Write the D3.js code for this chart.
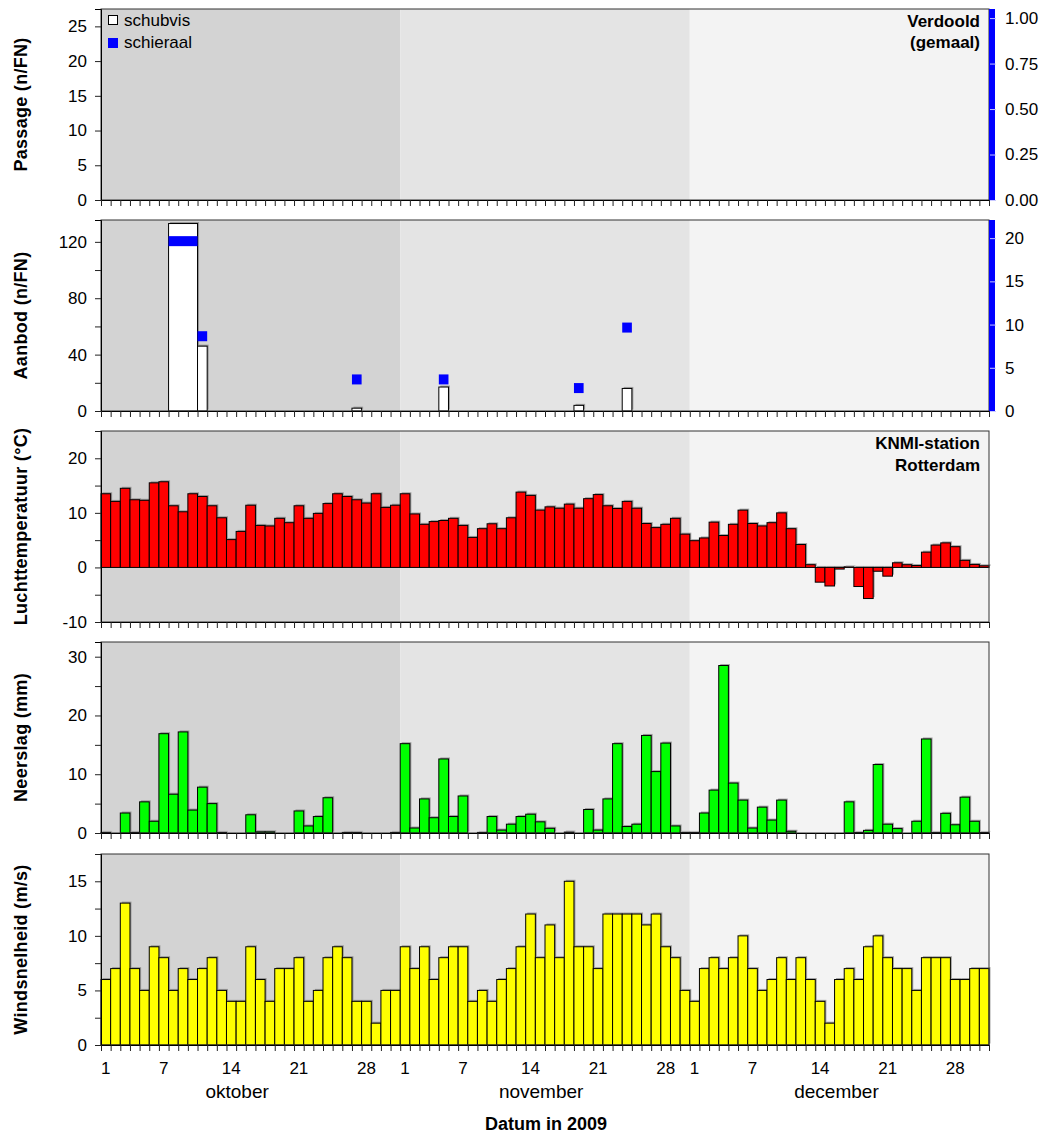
<!DOCTYPE html>
<html>
<head>
<meta charset="utf-8">
<script src="https://cdn.jsdelivr.net/npm/d3@7"></script>
<style>
  body { margin: 0; background: #fff; }
  text { font-family: "Liberation Sans", Arial, sans-serif; }
</style>
</head>
<body>
<svg id="chart" width="1051" height="1140"></svg>
<script>
// ---- calendar (1 Oct - 31 Dec 2009, day index 0..91) ----
const months = ["oktober", "november", "december"];
const monthStart = [0, 31, 61];
const monthLength = [31, 30, 31];
const monthLabelDay = [14.1, 45.6, 76.2];
const dayTickLabels = [1, 7, 14, 21, 28];
const monthBandColors = ["#d3d3d3", "#e4e4e4", "#f3f3f3"];

// ---- fyke-net catch per sampling period (day index start/end) ----
const aanbodStart = [7, 10, 26, 35, 49, 54];
const aanbodEnd = [10, 11, 27, 36, 50, 55];
const schubvisAanbod = [133, 46, 2, 17, 4, 16];
const schieraalAanbod = [20, 9, 4, 4, 3, 10];

// ---- KNMI Rotterdam daily weather ----
const temperature = [
  13.5, 12.1, 14.5, 12.4, 12.3, 15.5, 15.7, 11.3, 10.2, 13.5, 13.0, 11.3, 9.1, 5.1, 6.6, 11.4,
  7.7, 7.6, 9.0, 8.2, 11.3, 9.0, 9.9, 11.7, 13.5, 13.0, 12.4, 11.8, 13.5, 11.0, 11.4,
  13.5, 9.8, 7.9, 8.4, 8.6, 9.0, 7.7, 5.5, 7.1, 8.0, 7.1, 9.1, 13.8, 13.2, 10.5,
  11.1, 10.85, 11.6, 10.85, 12.6, 13.35, 11.3, 10.8, 12.1, 10.85, 8.05, 7.3, 7.9, 9.0, 6.1,
  4.9, 5.4, 8.3, 5.85, 7.9, 10.5, 8.05, 7.6, 8.2, 10.0, 7.1, 4.2, 0.5, -2.7, -3.4, -0.3,
  0.1, -3.5, -5.7, -0.7, -1.6, 0.85, 0.5, 0.35, 2.8, 4.1, 4.5, 3.8, 1.3, 0.55, 0.3
];
const precipitation = [
  0.1, 0, 3.4, 0.1, 5.3, 2.0, 16.9, 6.6, 17.2, 3.9, 7.8, 5.0, 0.1, 0, 0, 3.1,
  0.2, 0.2, 0, 0, 3.75, 1.2, 2.8, 6.0, 0, 0.1, 0.1, 0, 0, 0, 0.1,
  15.2, 0.85, 5.8, 2.6, 12.6, 2.8, 6.3, 0, 0.1, 2.8, 0.5, 1.5, 2.8, 3.2, 1.9,
  0.8, 0, 0.15, 0, 4.0, 0.5, 5.8, 15.2, 1.1, 1.5, 16.6, 10.45, 15.3, 1.2, 0.1,
  0.1, 3.4, 7.3, 28.5, 8.5, 5.6, 0.85, 4.4, 2.2, 5.6, 0.3, 0, 0, 0, 0, 0,
  5.3, 0.1, 0.45, 11.65, 1.5, 0.75, 0, 2.0, 16.0, 0.1, 3.35, 1.4, 6.1, 2.0, 0.1
];
const windSpeed = [
  6, 7, 13, 7, 5, 9, 8, 5, 7, 6, 7, 8, 5, 4, 4, 9, 6, 4, 7, 7, 8, 4, 5, 8, 9, 8, 4, 4, 2, 5, 5,
  9, 7, 9, 6, 8, 9, 9, 4, 5, 4, 6, 7, 9, 12, 8, 11, 8, 15, 9, 9, 7, 12, 12, 12, 12, 11, 12, 9, 8, 5,
  4, 7, 8, 7, 8, 10, 7, 5, 6, 8, 6, 8, 6, 4, 2, 6, 7, 6, 9, 10, 8, 7, 7, 5, 8, 8, 8, 6, 6, 7, 7
];

const nDays = 92;
const svg = d3.select("#chart");
const x = d3.scaleLinear().domain([0, nDays]).range([101, 989]);

const panelTop = [9, 220, 431, 642, 854];
const panelH = 191;

function panelFrame(idx) {
  const top = panelTop[idx];
  const g = svg.append("g");
  // month background bands
  g.selectAll("rect.band").data(months).join("rect")
    .attr("x", (d, i) => x(monthStart[i]))
    .attr("width", (d, i) => x(monthStart[i] + monthLength[i]) - x(monthStart[i]))
    .attr("y", top).attr("height", panelH)
    .attr("fill", (d, i) => monthBandColors[i]);
  return g;
}

function finishPanel(g, idx, y, tickVals, labelVals, title, fmt) {
  const top = panelTop[idx];
  // frame
  g.append("rect").attr("x", x(0)).attr("y", top)
    .attr("width", x(nDays) - x(0)).attr("height", panelH)
    .attr("fill", "none").attr("stroke", "#333").attr("stroke-width", 1);
  // left axis
  const ax = g.append("g").attr("transform", `translate(${x(0)},0)`)
    .call(d3.axisLeft(y).tickValues(tickVals).tickSize(6).tickPadding(8)
      .tickFormat(d => labelVals.includes(d) ? (fmt ? fmt(d) : String(d)) : ""));
  ax.selectAll("text").attr("font-size", 17).attr("fill", "#000")
    .attr("font-family", '"Liberation Sans", Arial, sans-serif');
  ax.selectAll("line").attr("stroke", "#222");
  ax.select(".domain").attr("stroke", "#000");
  // day ticks along the bottom
  const bx = g.append("g").attr("transform", `translate(0,${top + panelH})`)
    .call(d3.axisBottom(x).tickValues(d3.range(nDays + 1)).tickSize(6).tickFormat(""));
  bx.selectAll("line").attr("stroke", "#222");
  bx.select(".domain").attr("stroke", "#000");
  // axis title
  g.append("text")
    .attr("transform", `translate(27,${top + panelH / 2}) rotate(-90)`)
    .attr("text-anchor", "middle").attr("font-size", 18).attr("font-weight", "bold")
    .attr("letter-spacing", 0.3)
    .text(title);
}

function drawBars(g, values, y, color) {
  const data = values.map((v, i) => ({ i, v })).filter(d => d.v !== 0);
  const rectAttrs = sel => sel
    .attr("x", d => x(d.i))
    .attr("width", d => x(d.i + 1) - x(d.i))
    .attr("y", d => Math.min(y(d.v), y(0)))
    .attr("height", d => Math.abs(y(d.v) - y(0)));
  g.append("g").attr("transform", "translate(1.5,-1.5)")
    .selectAll("rect").data(data).join("rect").call(rectAttrs)
    .attr("fill", "#707070").attr("opacity", 0.6);
  g.append("g").selectAll("rect").data(data).join("rect").call(rectAttrs)
    .attr("fill", color).attr("stroke", "#000").attr("stroke-width", 1);
}

function blueRightAxis(g, idx, yR, ticks, fmt) {
  const top = panelTop[idx];
  g.append("rect").attr("x", x(nDays)).attr("y", top)
    .attr("width", 6).attr("height", panelH).attr("fill", "#0000ff");
  const ax = g.append("g").attr("transform", `translate(${x(nDays) + 1},0)`)
    .call(d3.axisRight(yR).tickValues(ticks).tickSize(6).tickPadding(9).tickFormat(fmt));
  ax.select(".domain").remove();
  ax.selectAll("line").attr("stroke", "#c8c8ff");
  ax.selectAll("text").attr("font-size", 17).attr("fill", "#000")
    .attr("font-family", '"Liberation Sans", Arial, sans-serif');
}

// ---- panel 1: passage (empty) ----
{
  const idx = 0, top = panelTop[idx];
  const g = panelFrame(idx);
  const y = d3.scaleLinear().domain([0, 27.5]).range([top + panelH, top]);
  const yR = d3.scaleLinear().domain([0, 1.05]).range([top + panelH, top]);
  finishPanel(g, idx, y, [0, 5, 10, 15, 20, 25], [0, 5, 10, 15, 20, 25], "Passage (n/FN)");
  blueRightAxis(g, idx, yR, [0, 0.25, 0.5, 0.75, 1], d3.format(".2f"));
  // legend
  const lg = g.append("g");
  lg.append("rect").attr("x", 108.5).attr("y", 15.5).attr("width", 9).attr("height", 9)
    .attr("fill", "#fff").attr("stroke", "#000");
  lg.append("text").attr("x", 124).attr("y", 26).attr("font-size", 17).text("schubvis");
  lg.append("rect").attr("x", 108).attr("y", 38).attr("width", 10).attr("height", 10)
    .attr("fill", "#0000ff");
  lg.append("text").attr("x", 124).attr("y", 48).attr("font-size", 17).text("schieraal");
  g.append("text").attr("x", 980).attr("y", 27).attr("text-anchor", "end")
    .attr("font-size", 17).attr("font-weight", "bold").text("Verdoold");
  g.append("text").attr("x", 980).attr("y", 48).attr("text-anchor", "end")
    .attr("font-size", 17).attr("font-weight", "bold").text("(gemaal)");
}

// ---- panel 2: aanbod ----
{
  const idx = 1, top = panelTop[idx];
  const g = panelFrame(idx);
  const y = d3.scaleLinear().domain([0, 135.5]).range([top + panelH, top]);
  const yR = d3.scaleLinear().domain([0, 22.1]).range([top + panelH, top]);
  const periods = aanbodStart.map((s, k) => ({ s, e: aanbodEnd[k], v: schubvisAanbod[k], a: schieraalAanbod[k] }));
  g.append("g").attr("transform", "translate(1.5,-1.5)")
    .selectAll("rect").data(periods).join("rect")
    .attr("x", d => x(d.s)).attr("width", d => x(d.e) - x(d.s))
    .attr("y", d => y(d.v)).attr("height", d => y(0) - y(d.v))
    .attr("fill", "#707070").attr("opacity", 0.6);
  g.append("g").selectAll("rect").data(periods).join("rect")
    .attr("x", d => x(d.s)).attr("width", d => x(d.e) - x(d.s))
    .attr("y", d => y(d.v)).attr("height", d => y(0) - y(d.v))
    .attr("fill", "#fff").attr("stroke", "#000").attr("stroke-width", 1);
  // schieraal markers (10 px tall symbols hanging just below their value)
  g.append("g").selectAll("rect").data(periods).join("rect")
    .attr("x", d => x(d.s)).attr("width", d => x(d.e) - x(d.s))
    .attr("y", d => yR(d.a) - 2).attr("height", 10)
    .attr("fill", "#0000ff");
  finishPanel(g, idx, y, [0, 20, 40, 60, 80, 100, 120], [0, 40, 80, 120], "Aanbod (n/FN)");
  blueRightAxis(g, idx, yR, [0, 5, 10, 15, 20], d => String(d));
}

// ---- panel 3: temperature ----
{
  const idx = 2, top = panelTop[idx];
  const g = panelFrame(idx);
  const y = d3.scaleLinear().domain([-10, 25]).range([top + panelH, top]);
  drawBars(g, temperature, y, "#ff0000");
  finishPanel(g, idx, y, [-10, -5, 0, 5, 10, 15, 20, 25], [-10, 0, 10, 20], "Luchttemperatuur (°C)");
  g.append("text").attr("x", 980).attr("y", 449).attr("text-anchor", "end")
    .attr("font-size", 17).attr("font-weight", "bold").text("KNMI-station");
  g.append("text").attr("x", 980).attr("y", 471).attr("text-anchor", "end")
    .attr("font-size", 17).attr("font-weight", "bold").text("Rotterdam");
}

// ---- panel 4: precipitation ----
{
  const idx = 3, top = panelTop[idx];
  const g = panelFrame(idx);
  const y = d3.scaleLinear().domain([0, 32.5]).range([top + panelH, top]);
  drawBars(g, precipitation, y, "#00ff00");
  finishPanel(g, idx, y, [0, 5, 10, 15, 20, 25, 30], [0, 10, 20, 30], "Neerslag (mm)");
}

// ---- panel 5: wind speed ----
{
  const idx = 4, top = panelTop[idx];
  const g = panelFrame(idx);
  const y = d3.scaleLinear().domain([0, 17.5]).range([top + panelH, top]);
  drawBars(g, windSpeed, y, "#ffff00");
  finishPanel(g, idx, y, [0, 2.5, 5, 7.5, 10, 12.5, 15, 17.5], [0, 5, 10, 15], "Windsnelheid (m/s)");

  // date labels
  const bottom = top + panelH;
  const labels = [];
  monthStart.forEach(ms => dayTickLabels.forEach(d => labels.push({ day: ms + d - 1, text: String(d) })));
  svg.append("g").selectAll("text").data(labels).join("text")
    .attr("x", d => x(d.day + 0.5)).attr("y", bottom + 29)
    .attr("text-anchor", "middle").attr("font-size", 17).text(d => d.text);
  svg.append("g").selectAll("text").data(months).join("text")
    .attr("x", (d, i) => x(monthLabelDay[i])).attr("y", bottom + 53)
    .attr("text-anchor", "middle").attr("font-size", 19).text(d => d);
  svg.append("text").attr("x", 546).attr("y", bottom + 85)
    .attr("text-anchor", "middle").attr("font-size", 18).attr("font-weight", "bold")
    .text("Datum in 2009");
}
</script>
</body>
</html>
